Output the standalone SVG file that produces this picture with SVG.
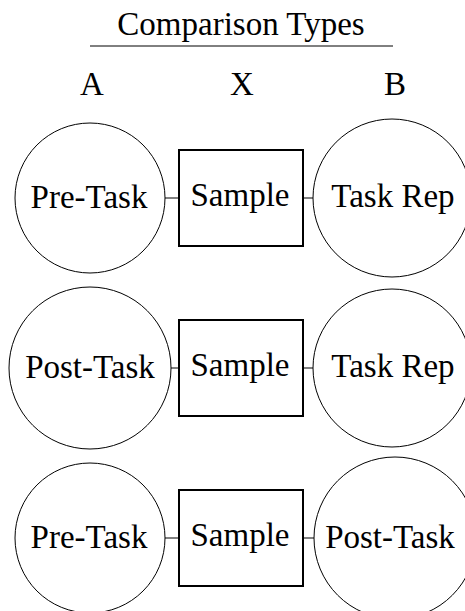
<svg xmlns="http://www.w3.org/2000/svg" width="465" height="611" viewBox="0 0 465 611">
<style>
text{font-family:"Liberation Serif","Times New Roman",serif;font-size:33px;fill:#000;text-anchor:middle}
.c{fill:#fff;stroke:#000;stroke-width:1}
.r{fill:#fff;stroke:#000;stroke-width:2}
.e{stroke:#555;stroke-width:1.5}
</style>
<rect width="465" height="611" fill="#fff"/>
<g id="title">
<text x="241" y="35">Comparison Types</text>
<line x1="90" y1="46" x2="393" y2="46" stroke="#000" stroke-width="1"/>
</g>
<g id="headers">
<text x="92" y="95">A</text>
<text x="242" y="95">X</text>
<text x="395" y="95">B</text>
</g>
<g id="connectors">
<line class="e" x1="165" y1="198" x2="179" y2="198"/>
<line class="e" x1="303" y1="198" x2="313" y2="198"/>
<line class="e" x1="171" y1="368" x2="179" y2="368"/>
<line class="e" x1="303" y1="368" x2="313" y2="368"/>
<line class="e" x1="165" y1="538" x2="179" y2="538"/>
<line class="e" x1="303" y1="538" x2="314" y2="538"/>
</g>
<g id="a1"><circle class="c" cx="90" cy="198" r="75"/><text x="89" y="208">Pre-Task</text></g>
<g id="x1"><rect class="r" x="179" y="150" width="124" height="96"/><text x="240" y="206">Sample</text></g>
<g id="b1"><circle class="c" cx="392" cy="198" r="79"/><text x="393" y="207">Task Rep</text></g>
<g id="a2"><circle class="c" cx="90" cy="368" r="81"/><text x="90" y="378">Post-Task</text></g>
<g id="x2"><rect class="r" x="179" y="320" width="124" height="96"/><text x="240" y="376">Sample</text></g>
<g id="b2"><circle class="c" cx="392" cy="368" r="79"/><text x="393" y="377">Task Rep</text></g>
<g id="a3"><circle class="c" cx="90" cy="538" r="75"/><text x="89" y="548">Pre-Task</text></g>
<g id="x3"><rect class="r" x="179" y="490" width="124" height="96"/><text x="240" y="546">Sample</text></g>
<g id="b3"><circle class="c" cx="395" cy="538" r="81"/><text x="390" y="548">Post-Task</text></g>
</svg>
